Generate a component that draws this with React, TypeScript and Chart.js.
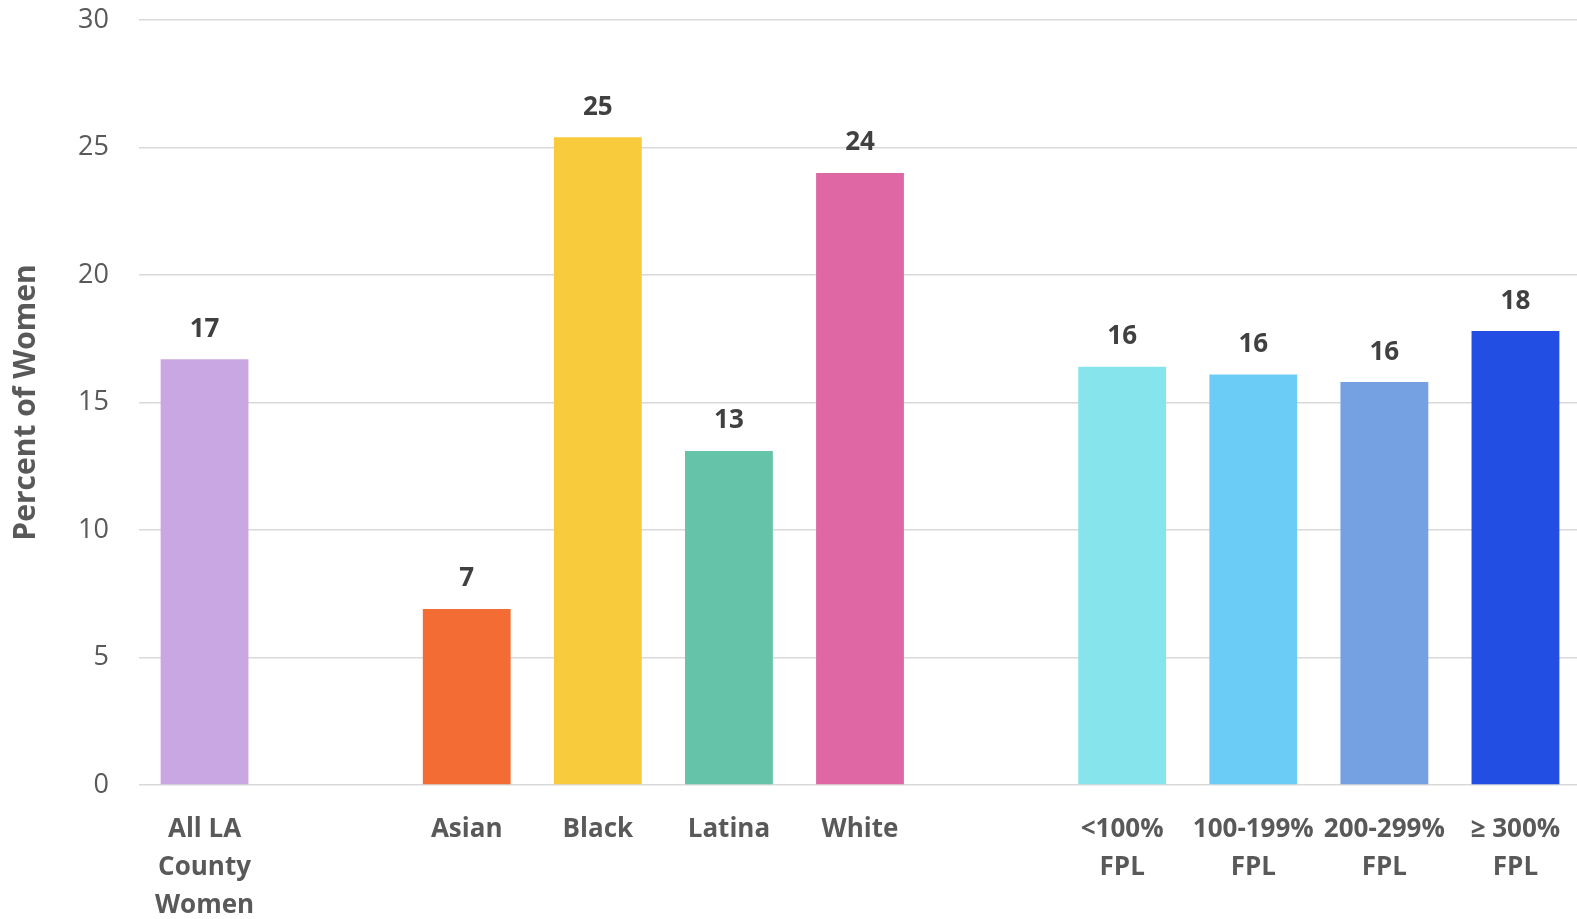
import React, { useEffect, useRef } from "react";
import { Chart, registerables } from "chart.js";

Chart.register(...registerables);

const categories: (string | string[])[] = [
  ["All LA", "County", "Women"],
  "",
  "Asian",
  "Black",
  "Latina",
  "White",
  "",
  ["<100%", "FPL"],
  ["100-199%", "FPL"],
  ["200-299%", "FPL"],
  ["≥ 300%", "FPL"],
];

const values: (number | null)[] = [16.7, null, 6.9, 25.4, 13.1, 24.0, null, 16.4, 16.1, 15.8, 17.8];
const valueLabels: string[] = ["17", "", "7", "25", "13", "24", "", "16", "16", "16", "18"];
const barColors: string[] = [
  "#C9A7E3",
  "#FFFFFF",
  "#F36C33",
  "#F7CB3B",
  "#64C3A8",
  "#DF67A3",
  "#FFFFFF",
  "#86E5EC",
  "#6BCDF5",
  "#75A1E2",
  "#234EE3",
];
const yTicks: number[] = [0, 5, 10, 15, 20, 25, 30];

const FONT = "'Open Sans', sans-serif";
const CANVAS_W = 1581;

const labelPlugin = {
  id: "valueLabels",
  afterDatasetsDraw(chart: any) {
    const ctx = chart.ctx;
    const meta = chart.getDatasetMeta(0);
    ctx.save();
    ctx.font = `bold 26px ${FONT}`;
    ctx.fillStyle = "#404040";
    ctx.textAlign = "center";
    ctx.textBaseline = "bottom";
    meta.data.forEach((bar: any, i: number) => {
      if (values[i] == null) return;
      ctx.fillText(valueLabels[i], bar.x, bar.y - 17);
    });
    ctx.restore();
  },
};

export default function App() {
  const ref = useRef<HTMLCanvasElement>(null);
  useEffect(() => {
    if (!ref.current) return;
    const chart = new Chart(ref.current, {
      type: "bar",
      data: {
        labels: categories,
        datasets: [
          {
            data: values,
            backgroundColor: barColors,
            barPercentage: 0.67,
            categoryPercentage: 1,
          },
        ],
      },
      plugins: [labelPlugin],
      options: {
        responsive: false,
        animation: false,
        maintainAspectRatio: false,
        layout: { padding: { top: 20, right: 0, left: 0, bottom: 0 } },
        plugins: { legend: { display: false }, tooltip: { enabled: false } },
        scales: {
          x: {
            grid: { display: false, drawTicks: false },
            border: { display: false },
            ticks: {
              color: "#595959",
              font: { family: FONT, size: 26, weight: "bold", lineHeight: 1.45 },
              padding: 26,
              maxRotation: 0,
              autoSkip: false,
            },
            afterFit: (s: any) => {
              s.height = 134;
              s.paddingLeft = 0;
              s.paddingRight = 0;
            },
          },
          y: {
            min: 0,
            max: 30,
            afterBuildTicks: (s: any) => {
              s.ticks = yTicks.map((v) => ({ value: v }));
            },
            grid: { color: "#D9D9D9", lineWidth: 1.5, drawTicks: false },
            border: { display: false },
            ticks: {
              color: "#595959",
              font: { family: FONT, size: 27 },
              padding: 30,
            },
            title: {
              display: true,
              text: "Percent of Women",
              color: "#595959",
              font: { family: FONT, size: 30, weight: "bold" },
              padding: { top: 8, bottom: 0 },
            },
            afterFit: (s: any) => {
              s.width = 139;
              s.paddingTop = 0;
              s.paddingBottom = 0;
            },
          },
        },
      },
    });
    return () => chart.destroy();
  }, []);
  return (
    <div
      style={{
        position: "absolute",
        left: 0,
        top: 0,
        width: 1577,
        height: 919,
        overflow: "hidden",
        background: "#fff",
      }}
    >
      <canvas ref={ref} width={CANVAS_W} height={919} style={{ width: CANVAS_W, height: 919, display: "block" }} />
    </div>
  );
}
